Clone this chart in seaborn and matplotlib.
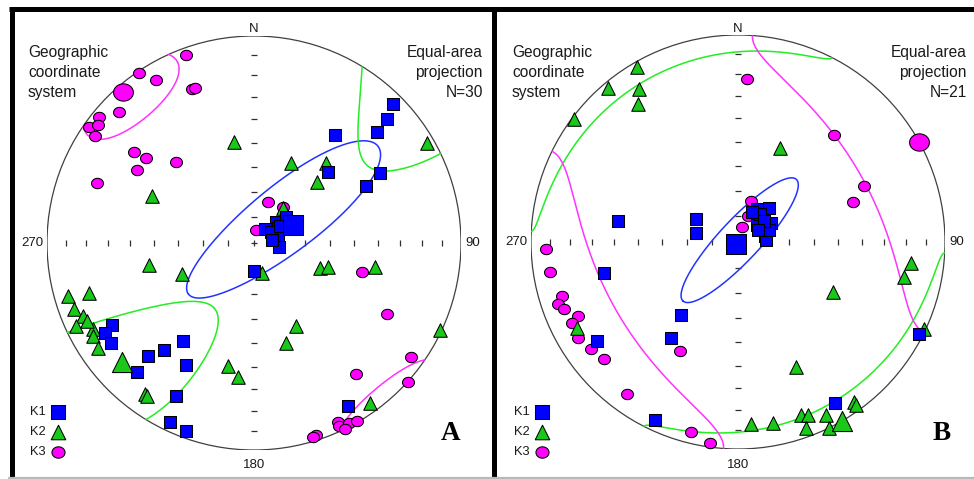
import numpy as np
import pandas as pd
import matplotlib
matplotlib.use("Agg")
import matplotlib.pyplot as plt
from matplotlib.patches import Circle
from matplotlib.path import Path
import seaborn as sns

sns.set_theme(style="white")
plt.rcParams["font.family"] = ["Liberation Sans", "DejaVu Sans"]

# ---------------- Site A (N=30): principal axes, declination / inclination ----------------
a_k1_dec = [45, 47, 48, 37, 46, 61, 63, 46, 57, 40, 64, 72, 99, 180, 51, 56, 57, 80,
            240, 239, 235, 216, 220, 223, 222, 209, 207, 205, 200, 150]
a_k1_inc = [6, 13, 21, 35, 49, 31, 39, 78, 79, 83, 71, 80, 80, 79, 74, 82, 78, 83,
            22, 17, 17, 41, 33, 26, 17, 33, 18, 5, 4, 10]
a_k2_dec = [349, 25, 42, 46, 60, 295, 40, 258, 247, 165, 111, 108, 101,
            253, 254, 250, 247, 245, 242, 240, 236, 245,
            153, 162, 192, 187, 216, 215, 144, 115]
a_k2_inc = [49, 55, 47, 55, 4, 45, 72, 47, 59, 78, 62, 59, 40,
            18, 7, 8, 11, 6, 13, 11, 10, 12,
            53, 48, 39, 35, 11, 11, 5, 1]
a_k3_dec = [340, 326, 329, 338, 339, 309, 314, 305, 307, 304, 307, 308, 302, 316, 291,
            19, 39, 8,
            105, 118, 126, 142, 132, 155, 155, 152, 150, 154, 162, 163]
a_k3_inc = [4, 1, 9, 21, 21, 4, 10, 3, 6, 8, 28, 34, 34, 45, 20,
            73, 72, 85,
            45, 28, 7, 21, 0, 5, 3, 2, 1, 0, 3, 2]
# mean directions K1, K2, K3
a_mean_dec = [65, 228, 319]
a_mean_inc = [73, 15, 4]
# confidence ellipses K1, K2, K3: centre, major / minor semi-angles, major-axis rotation
a_ell_dec = [52, 226, 320]
a_ell_inc = [74, 13, 6]
a_ell_emax = [49, 48, 17]
a_ell_emin = [13, 17, 15]
a_ell_rot = [0, -10, 90]

# ---------------- Site B (N=21) ----------------
b_k1_dec = [280, 299, 282, 29, 42, 47, 61, 77, 86,
            257, 218, 215, 235, 117, 205, 149,
            39, 69, 25, 51, 59]
b_k1_inc = [41, 71, 73, 75, 72, 80, 75, 79, 79,
            34, 53, 43, 18, 2, 6, 10,
            76, 77, 77, 77, 81]
b_k2_dec = [330, 320, 327, 324, 307, 24,
            97, 102, 118, 115, 155, 242,
            176, 169, 160, 158, 160, 153, 154, 144, 144]
b_k2_inc = [3, 3, 13, 19, 1, 49,
            17, 19, 47, 1, 34, 13,
            13, 12, 12, 11, 5, 7, 0, 5, 3]
b_k3_dec = [3, 42, 66, 71, 16, 18,
            268, 261, 253, 251, 245, 244, 239, 234, 229, 208, 216, 194, 188,
            20, 249]
b_k3_inc = [22, 31, 34, 41, 84, 73,
            8, 9, 12, 9, 16, 12, 11, 13, 15, 40, 10, 6, 2,
            79, 11]
b_mean_dec = [225, 150, 61]
b_mean_inc = [89, 0, 0]
b_ell_dec = [43, 150, 60]
b_ell_inc = [89, 0, 0]
b_ell_emax = [33, 57, 56]
b_ell_emin = [8, 11, 33]
b_ell_rot = [0, 90, 90]

axis_names = ["K1", "K2", "K3"]
fill_colors = {"K1": "#0000FF", "K2": "#19C819", "K3": "#FF00FF"}
line_colors = {"K1": "#2233FF", "K2": "#22EE22", "K3": "#FF33FF"}

# slightly flattened disc used for K3
_t = np.linspace(0, 2 * np.pi, 41)
oval = Path(np.column_stack([np.cos(_t), 0.87 * np.sin(_t)]), closed=True)
markers = {"K1": "s", "K2": "^", "K3": oval}
sizes = {"K1": 82, "K2": 95, "K3": 74}
mean_sizes = {"K1": 195, "K2": 210, "K3": 205}


def project(dec, inc):
    """Lower-hemisphere equal-area (Schmidt) projection on the unit circle."""
    d = np.radians(np.asarray(dec, float))
    i = np.radians(np.asarray(inc, float))
    r = np.sqrt(1.0 - np.sin(i))
    return r * np.sin(d), r * np.cos(d)


def cone(dec, inc, emax, emin, rot, n=1440):
    """Elliptical confidence cone around a mean axis, folded into the lower hemisphere."""
    t, p = np.radians(dec), np.radians(inc)
    m = np.array([np.cos(p) * np.sin(t), np.cos(p) * np.cos(t), np.sin(p)])
    u_dip = np.array([-np.sin(p) * np.sin(t), -np.sin(p) * np.cos(t), np.cos(p)])
    u_perp = np.array([np.cos(t), -np.sin(t), 0.0])
    g = np.radians(rot)
    u1 = np.cos(g) * u_dip + np.sin(g) * u_perp
    u2 = -np.sin(g) * u_dip + np.cos(g) * u_perp
    th = np.linspace(0, 2 * np.pi, n + 1)
    a = np.radians(emax) * np.cos(th)
    b = np.radians(emin) * np.sin(th)
    ang = np.hypot(a, b)
    d = (np.cos(ang)[:, None] * m
         + (np.sin(ang) / ang)[:, None] * (a[:, None] * u1 + b[:, None] * u2))
    up = d[:, 2] < 0
    d[up] *= -1
    s = np.sqrt(1 + d[:, 2])
    x, y = d[:, 0] / s, d[:, 1] / s
    xs, ys = [], []
    for k in range(len(x)):
        if k > 0 and up[k] != up[k - 1]:
            xs.append(np.nan)
            ys.append(np.nan)
        xs.append(x[k])
        ys.append(y[k])
    return np.array(xs), np.array(ys)


W, H = 974, 479
fig = plt.figure(figsize=(W / 100, H / 100), dpi=100)
fig.patch.set_facecolor("white")

# pixel-space overlay for frames, captions and legends
ov = fig.add_axes([0, 0, 1, 1], zorder=0)
ov.set_xlim(0, W)
ov.set_ylim(H, 0)
ov.axis("off")

frame_kw = dict(color="black", lw=3.6, solid_capstyle="butt")
ov.plot([9, W], [9, 9], **frame_kw)
ov.plot([12, 12], [7, H], **frame_kw)
ov.plot([494, 494], [7, H], **frame_kw)
ov.plot([9, W], [477.5, 477.5], color="#b8b8b8", lw=1.6)

panels = [
    dict(cx=254, cy=243, R=207, letter="A", n=30, lx=451,
         k1=(a_k1_dec, a_k1_inc), k2=(a_k2_dec, a_k2_inc), k3=(a_k3_dec, a_k3_inc),
         mean=(a_mean_dec, a_mean_inc),
         ell=(a_ell_dec, a_ell_inc, a_ell_emax, a_ell_emin, a_ell_rot)),
    dict(cx=738, cy=242, R=207, letter="B", n=21, lx=942,
         k1=(b_k1_dec, b_k1_inc), k2=(b_k2_dec, b_k2_inc), k3=(b_k3_dec, b_k3_inc),
         mean=(b_mean_dec, b_mean_inc),
         ell=(b_ell_dec, b_ell_inc, b_ell_emax, b_ell_emin, b_ell_rot)),
]

txt = "#1a1a1a"
tick_dips = np.arange(10, 90, 10)
tick_r = np.sqrt(1 - np.sin(np.radians(tick_dips)))

for pnl in panels:
    cx, cy, R = pnl["cx"], pnl["cy"], pnl["R"]
    ax = fig.add_axes([(cx - R) / W, (H - cy - R) / H, 2 * R / W, 2 * R / H], zorder=2)
    ax.set_xlim(-1, 1)
    ax.set_ylim(-1, 1)
    ax.axis("off")
    ax.patch.set_alpha(0)

    # primitive circle and equal-area dip ticks
    ax.add_patch(Circle((0, 0), 1, fill=False, ec="#404040", lw=0.9, zorder=1))
    tx = np.concatenate([tick_r, -tick_r])
    ax.scatter(tx, np.zeros_like(tx), marker="|", s=14, c="#303030", lw=0.9, zorder=1)
    ax.scatter(np.zeros_like(tx), tx, marker="_", s=14, c="#303030", lw=0.9, zorder=1)
    ax.scatter([0], [0], marker="+", s=22, c="#303030", lw=0.9, zorder=1)

    # confidence ellipses
    for j, name in enumerate(axis_names):
        e = [v[j] for v in pnl["ell"]]
        ex, ey = cone(*e)
        ax.plot(ex, ey, color=line_colors[name], lw=1.1, zorder=2)

    # individual specimen axes
    for name, key in (("K3", "k3"), ("K2", "k2"), ("K1", "k1")):
        px, py = project(*pnl[key])
        df = pd.DataFrame({"x": px, "y": py})
        sns.scatterplot(data=df, x="x", y="y", ax=ax, marker=markers[name],
                        color=fill_colors[name], s=sizes[name], edgecolor="black",
                        linewidth=0.75, legend=False, clip_on=False, zorder=3)
    # mean axes (larger symbols)
    mdec, minc = pnl["mean"]
    for j, name in enumerate(axis_names):
        px, py = project([mdec[j]], [minc[j]])
        sns.scatterplot(x=px, y=py, ax=ax, marker=markers[name],
                        color=fill_colors[name], s=mean_sizes[name], edgecolor="black",
                        linewidth=0.75, legend=False, clip_on=False, zorder=4)
    ax.set_xlabel("")
    ax.set_ylabel("")

    # captions
    fs = 11.2
    for k, line in enumerate(["Geographic", "coordinate", "system"]):
        ov.text(cx - 226, 57 + 20 * k, line, fontsize=fs, color=txt, ha="left", va="baseline")
    for k, line in enumerate(["Equal-area", "projection", f"N={pnl['n']}"]):
        ov.text(cx + 229, 57 + 20 * k, line, fontsize=fs, color=txt, ha="right", va="baseline")
    ov.text(cx, 32, "N", fontsize=9.5, color=txt, ha="center", va="baseline")
    ov.text(cx - 222, cy, "270", fontsize=9.5, color=txt, ha="center", va="center")
    ov.text(cx + 219, cy, "90", fontsize=9.5, color=txt, ha="center", va="center")
    ov.text(cx, 468, "180", fontsize=9.5, color=txt, ha="center", va="baseline")
    ov.text(pnl["lx"], 440, pnl["letter"], fontsize=19.5, fontweight="bold",
            family="Liberation Serif", color="black", ha="center", va="baseline")

    # legend
    for k, (name, yy) in enumerate(zip(axis_names, [412, 432, 452])):
        ov.text(cx - 224, yy, name, fontsize=9.3, color=txt, ha="left", va="center")
        ov.scatter([cx - 196], [yy], marker=markers[name], s=sizes[name] + 15,
                   color=fill_colors[name], edgecolor="black", linewidth=0.75, zorder=3)

fig.savefig("out.png", dpi=100, facecolor="white")
